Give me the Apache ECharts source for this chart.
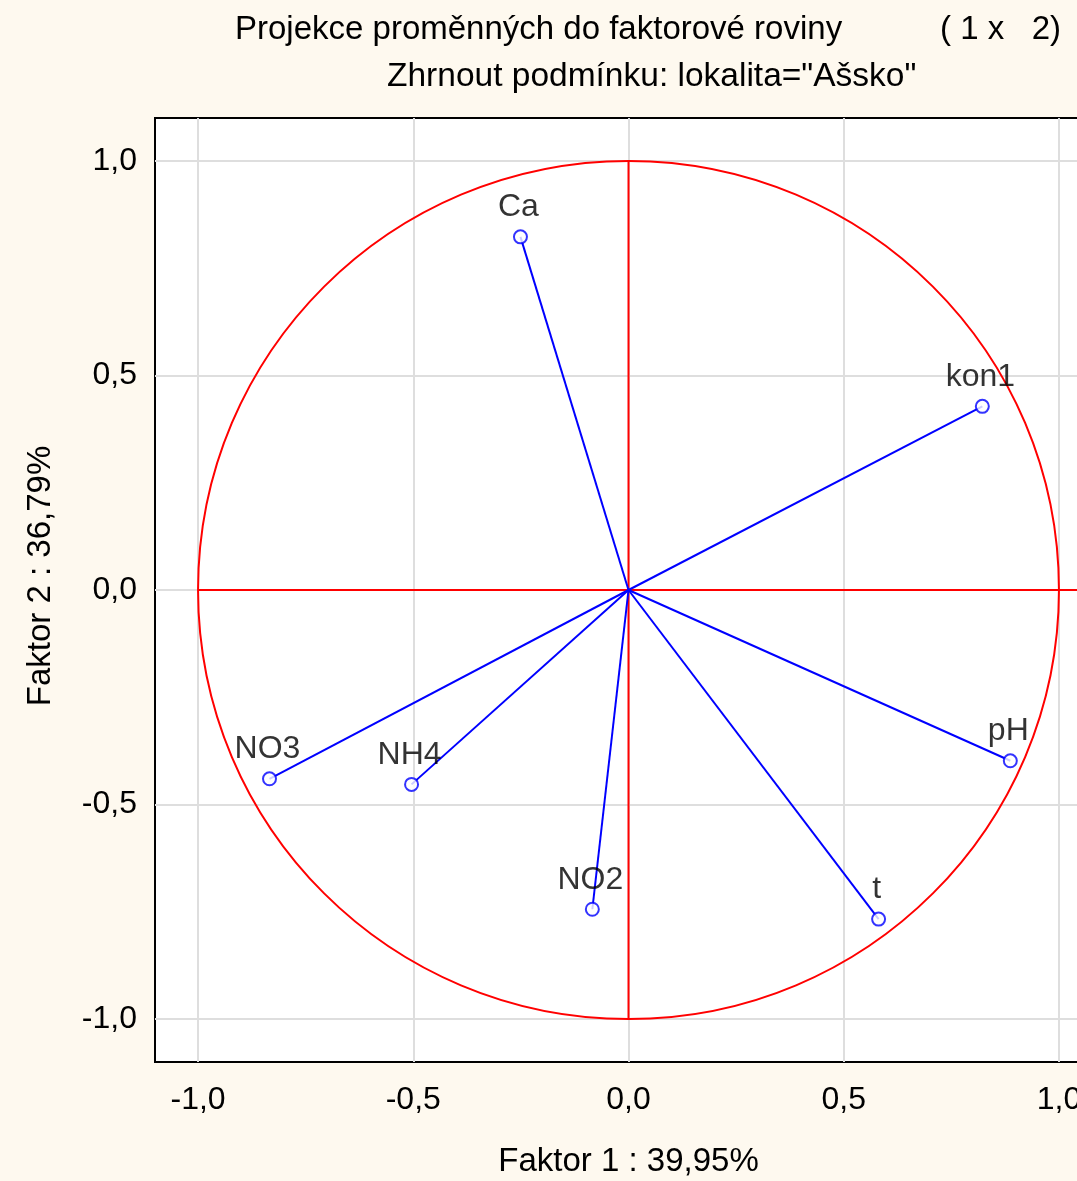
<!DOCTYPE html>
<html>
<head>
<meta charset="utf-8">
<script src="https://cdn.jsdelivr.net/npm/echarts@6/dist/echarts.min.js"></script>
<style>
  html, body { margin: 0; padding: 0; background: #fef9ef; }
  #chart { width: 1077px; height: 1181px; }
</style>
</head>
<body>
<div id="chart"></div>
<script>
// nazvy promennych a jejich souradnice (faktor 1, faktor 2)
var names = ["Ca", "kon1", "pH", "t", "NO2", "NH4", "NO3"];
var f1 = [-0.251, 0.822, 0.887, 0.581, -0.084, -0.504, -0.834];
var f2 = [0.823, 0.428, -0.398, -0.767, -0.744, -0.453, -0.440];
var ticks = [-1.0, -0.5, 0.0, 0.5, 1.0];
var axisMin = -1.1, axisMax = 1.1;

var font = "'Liberation Sans', Arial, sans-serif";
function fmt(v) { return v.toFixed(1).replace(".", ","); }

var chart = echarts.init(document.getElementById("chart"));

var series = [];
// mrizka (markLine ma jinak z=5 a prekryva osy)
series.push({
  type: "line", data: [], z: 1, silent: true,
  markLine: {
    z: 1, silent: true, symbol: "none", label: { show: false },
    lineStyle: { color: "#dedede", width: 2, type: "solid" },
    data: ticks.map(function (v) { return { xAxis: v }; })
      .concat(ticks.map(function (v) { return { yAxis: v }; }))
  }
});
// cervene osy
series.push({
  type: "line", z: 3, symbol: "none", silent: true,
  lineStyle: { color: "#ff0000", width: 2 },
  data: [[0, -1], [0, 1]]
});
series.push({
  type: "line", z: 3, symbol: "none", silent: true,
  lineStyle: { color: "#ff0000", width: 2 },
  data: [[-1, 0], [axisMax, 0]]
});
// jednotkova kruznice
series.push({
  type: "custom", z: 3, silent: true,
  data: [[0, 0, 1]],
  renderItem: function (params, api) {
    var c = api.coord([api.value(0), api.value(1)]);
    var s = api.size([api.value(2), api.value(2)]);
    return {
      type: "ellipse",
      shape: { cx: c[0], cy: c[1], rx: s[0], ry: s[1] },
      style: { fill: "none", stroke: "#ff0000", lineWidth: 2 }
    };
  }
});
// vektory
for (var i = 0; i < names.length; i++) {
  series.push({
    type: "line", z: 4, symbol: "none", silent: true,
    lineStyle: { color: "#0000ff", width: 2 },
    data: [[0, 0], [f1[i], f2[i]]]
  });
}
series.push({
  type: "scatter", z: 5,
  symbol: "emptyCircle", symbolSize: 13,
  itemStyle: { color: "#0000ff", borderWidth: 2 },
  label: {
    show: true, position: "top", distance: 6, offset: [-2, 0],
    formatter: function (p) { return p.data.name; },
    color: "#000", fontSize: 32, fontFamily: font
  },
  data: names.map(function (n, i) { return { name: n, value: [f1[i], f2[i]] }; })
});

var option = {
  backgroundColor: "#fef9ef",
  animation: false,
  title: [
    { text: "Projekce proměnných do faktorové roviny", left: 230, top: 8,
      textStyle: { fontSize: 33, fontWeight: "normal", color: "#000", fontFamily: font } },
    { text: "( 1 x   2)", left: 935, top: 8,
      textStyle: { fontSize: 33, fontWeight: "normal", color: "#000", fontFamily: font } },
    { text: "Zhrnout podmínku: lokalita=\"Ašsko\"", left: 382, top: 55,
      textStyle: { fontSize: 33.5, fontWeight: "normal", color: "#000", fontFamily: font } }
  ],
  grid: {
    left: 155, top: 118, width: 947, height: 944,
    outerBoundsMode: "none",
    show: true, backgroundColor: "#ffffff", borderColor: "#000", borderWidth: 2
  },
  xAxis: [{
    type: "value", min: axisMin, max: axisMax, position: "bottom",
    name: "Faktor 1 : 39,95%", nameLocation: "middle", nameGap: 83,
    nameTextStyle: { fontSize: 33, color: "#000", fontFamily: font },
    splitLine: { show: false },
    axisLine: { show: true, onZero: false, lineStyle: { color: "#000", width: 2 } },
    axisTick: { show: true, inside: true, length: 7, customValues: ticks, lineStyle: { color: "#000", width: 2 } },
    axisLabel: { customValues: ticks, formatter: fmt, margin: 22, fontSize: 32, color: "#000", fontFamily: font }
  }, {
    type: "value", min: axisMin, max: axisMax, position: "top",
    splitLine: { show: false },
    axisLine: { show: true, lineStyle: { color: "#000", width: 2 } },
    axisTick: { show: true, inside: true, length: 7, customValues: ticks, lineStyle: { color: "#000", width: 2 } },
    axisLabel: { show: false }
  }],
  yAxis: [{
    type: "value", min: axisMin, max: axisMax, position: "left",
    name: "Faktor 2 : 36,79%", nameLocation: "middle", nameGap: 98,
    nameTextStyle: { fontSize: 33, color: "#000", fontFamily: font, padding: [0, 0, 0, 28] },
    splitLine: { show: false },
    axisLine: { show: true, onZero: false, lineStyle: { color: "#000", width: 2 } },
    axisTick: { show: true, inside: true, length: 7, customValues: ticks, lineStyle: { color: "#000", width: 2 } },
    axisLabel: { customValues: ticks, formatter: fmt, margin: 18, fontSize: 32, color: "#000", fontFamily: font }
  }, {
    type: "value", min: axisMin, max: axisMax, position: "right",
    splitLine: { show: false },
    axisLine: { show: true, lineStyle: { color: "#000", width: 2 } },
    axisTick: { show: true, inside: true, length: 7, customValues: ticks, lineStyle: { color: "#000", width: 2 } },
    axisLabel: { show: false }
  }],
  series: series
};

chart.setOption(option);
</script>
</body>
</html>
